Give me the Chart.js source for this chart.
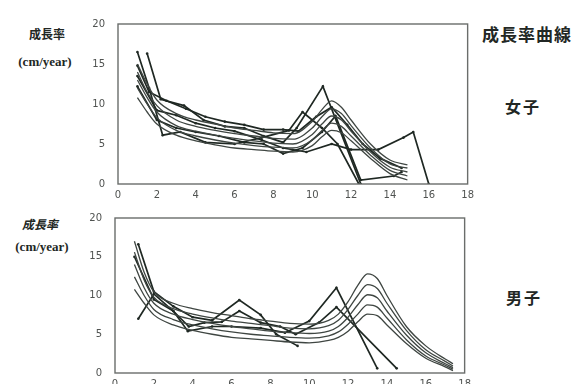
<!DOCTYPE html>
<html>
<head>
<meta charset="utf-8">
<script src="https://cdn.jsdelivr.net/npm/chart.js@4"></script>
<style>
  body { margin: 0; width: 575px; height: 384px; overflow: hidden; background: #fff; position: relative; }
  canvas { position: absolute; }
  .lbl { position: absolute; transform: translate(-50%, -50%); white-space: nowrap; color: #222724; }
  .cjk { font-family: "Noto Sans CJK JP", sans-serif; font-weight: bold; }
  .unit { font-family: "Liberation Serif", serif; font-weight: bold; font-size: 13px; }
</style>
</head>
<body>
<canvas id="girls" width="390" height="200" style="left:89px; top:5px;"></canvas>
<canvas id="boys" width="390" height="195" style="left:86px; top:199px;"></canvas>

<div class="lbl cjk" style="left:47px; top:33px; font-size:12px;">成長率</div>
<div class="lbl unit" style="left:45px; top:62px;">(cm/year)</div>
<div class="lbl cjk" style="left:527px; top:33px; font-size:17px; letter-spacing:1px;">成長率曲線</div>
<div class="lbl cjk" style="left:523px; top:106px; font-size:16px; letter-spacing:2px;">女子</div>
<div class="lbl cjk" style="left:40px; top:223px; font-size:12px; font-style:italic;">成長率</div>
<div class="lbl unit" style="left:42px; top:247px;">(cm/year)</div>
<div class="lbl cjk" style="left:524px; top:297px; font-size:16px; letter-spacing:2px;">男子</div>

<script>
// axis ticks
const xTicks = [0, 2, 4, 6, 8, 10, 12, 14, 16, 18];
const yTicks = [0, 5, 10, 15, 20];

// girls: reference growth-rate curves (smooth)
const girlAges = [1, 1.5, 2, 3, 4, 5, 6, 7, 8, 9, 10, 10.5, 11, 11.5, 12, 13, 14, 14.9];
const girlP1 = [15, 12.5, 10.5, 8.8, 8, 7.5, 7, 6.7, 6.4, 6.3, 7.8, 9.3, 10.4, 9.6, 8, 5, 3, 2.4];
const girlP2 = [14, 11.5, 9.8, 8, 7.2, 6.7, 6.3, 6, 5.7, 5.6, 7, 8.4, 9.4, 8.8, 7.3, 4.5, 2.5, 2];
const girlP3 = [13, 10.8, 9, 7.3, 6.6, 6.1, 5.7, 5.4, 5.1, 5, 6.2, 7.5, 8.5, 8, 6.6, 4, 2.1, 1.5];
const girlP4 = [12, 10, 8.3, 6.7, 6, 5.5, 5.1, 4.8, 4.6, 4.5, 5.5, 6.7, 7.6, 7.2, 6, 3.6, 1.7, 1];
const girlP5 = [10.8, 9, 7.5, 6.1, 5.4, 4.9, 4.5, 4.3, 4.1, 4, 4.8, 5.9, 6.7, 6.4, 5.4, 3.2, 1.3, 0.5];

// girls: individual cases [age, rate]
const girlA = [[1.5, 16.3], [2.2, 10.6], [3.4, 9.8], [4.4, 8], [5.5, 7.2], [6.5, 7], [7.5, 6], [8.5, 5.2], [9.2, 7], [10.55, 12.2], [12.5, 0]];
const girlB = [[1, 16.5], [1.6, 12], [2.3, 6.1], [3.2, 6.5], [4.5, 5.2], [6, 5], [7.4, 5.8], [8.8, 6.7], [9.5, 9], [10.5, 7], [11.3, 5], [12.4, 0]];
const girlC = [[1, 13.5], [2, 9.2], [3, 8.6], [4, 7.6], [5, 7], [6, 6.6], [7.4, 5.5], [8.5, 4.5], [9.7, 4], [11, 5], [12, 4.3], [13.4, 4.3], [14.7, 5.8], [15.2, 6.5], [16, 0]];
const girlD = [[1, 12.2], [2, 8], [3, 7], [4, 6.5], [5.2, 6], [6.5, 5.2], [7.5, 5], [8.5, 3.8], [9.5, 4.5], [10.5, 6.5], [11.2, 8.5], [12.5, 0.5], [14.2, 1], [14.6, 1.5]];
const girlE = [[1, 14.8], [1.6, 11.5], [2.5, 10.4], [3.5, 9.4], [4.5, 8.4], [5.5, 7.8], [6.5, 7.4], [7.5, 6.8], [8.5, 6.8], [9.3, 6.6], [10.2, 8.4], [11, 9.6], [11.8, 7.4], [12.6, 5], [13.5, 3.2], [14.6, 2]];

// boys: reference growth-rate curves (smooth)
const boyAges = [1, 1.5, 2, 3, 4, 5, 6, 7, 8, 9, 10, 11, 11.5, 12, 12.5, 13, 13.5, 14, 15, 16, 17, 17.4];
const boyP1 = [17, 13, 10.5, 9, 8.3, 7.8, 7.4, 7, 6.7, 6.4, 6.3, 6.8, 7.6, 9.2, 11.3, 12.8, 12.2, 10, 6, 3.5, 1.8, 1.2];
const boyP2 = [15.6, 12, 9.8, 8.3, 7.6, 7.1, 6.7, 6.4, 6.1, 5.8, 5.7, 6.1, 6.8, 8.2, 10, 11.4, 10.9, 9, 5.5, 3, 1.5, 0.9];
const boyP3 = [14, 11, 9, 7.6, 6.9, 6.4, 6, 5.7, 5.4, 5.2, 5.1, 5.4, 6, 7.2, 8.8, 10.1, 9.7, 8, 4.9, 2.6, 1.2, 0.7];
const boyP4 = [12.4, 10, 8.2, 6.9, 6.2, 5.7, 5.3, 5, 4.8, 4.6, 4.5, 4.8, 5.3, 6.3, 7.6, 8.8, 8.5, 7.1, 4.3, 2.2, 1, 0.5];
const boyP5 = [10.8, 9, 7.5, 6.2, 5.5, 5, 4.6, 4.4, 4.2, 4, 3.9, 4.2, 4.6, 5.4, 6.6, 7.6, 7.4, 6.2, 3.8, 1.9, 0.8, 0.3];

// boys: individual cases [age, rate]
const boyA = [[1.2, 16.6], [2, 10.5], [3, 8.6], [4, 7.2], [5, 6.8], [6.4, 9.4], [7.5, 7.5], [8.3, 5], [9.4, 3.5]];
const boyB = [[1.2, 7], [2, 10.2], [3, 8], [3.8, 6], [4.6, 6.5], [5.5, 6.6], [6.4, 8], [7.5, 6.5], [8.5, 6], [9.3, 5], [10.5, 6.5], [11.4, 8.5], [14.5, 0.6]];
const boyC = [[1, 15], [2, 9.5], [3, 8], [3.75, 5.4], [5, 6], [6, 6], [7.5, 5.8], [8.75, 5.2], [10, 6.7], [11.4, 11], [13.5, 0.6]];

const smoothColor = '#3f4642';
const caseColor = '#1f2823';

function smooth(ages, vals) {
  return {
    data: ages.map((a, i) => ({ x: a, y: vals[i] })),
    borderColor: smoothColor,
    borderWidth: 1.3,
    pointRadius: 0,
    cubicInterpolationMode: 'monotone'
  };
}

function single(pairs) {
  return {
    data: pairs.map(p => ({ x: p[0], y: p[1] })),
    borderColor: caseColor,
    borderWidth: 1.7,
    pointRadius: 1.3,
    pointBackgroundColor: caseColor,
    pointBorderWidth: 0,
    tension: 0
  };
}

// draws the frame round the plot area
const frame = {
  id: 'frame',
  afterDraw(chart) {
    const a = chart.chartArea, ctx = chart.ctx;
    ctx.save();
    ctx.strokeStyle = '#6a6d6b';
    ctx.lineWidth = 1.4;
    ctx.strokeRect(a.left, a.top, a.right - a.left, a.bottom - a.top);
    ctx.restore();
  }
};

function makeOptions() {
  const tickFont = { family: 'DejaVu Sans', size: 10 };
  return {
    responsive: false,
    animation: false,
    layout: { padding: { top: 8, right: 11, left: 0, bottom: 0 } },
    plugins: { legend: { display: false }, tooltip: { enabled: false } },
    scales: {
      x: {
        type: 'linear', min: 0, max: 18,
        afterBuildTicks: s => { s.ticks = xTicks.map(v => ({ value: v })); },
        afterFit: s => { s.height = 21; },
        grid: { display: false, drawTicks: false },
        border: { display: false },
        ticks: { color: '#505351', font: tickFont, padding: 5 }
      },
      y: {
        min: 0, max: 20,
        afterBuildTicks: s => { s.ticks = yTicks.map(v => ({ value: v })); },
        afterFit: s => { s.width = 29; },
        grid: { display: false, drawTicks: false },
        border: { display: false },
        ticks: { color: '#505351', font: tickFont, padding: 13 }
      }
    }
  };
}

new Chart(document.getElementById('girls'), {
  type: 'line',
  data: {
    datasets: [
      smooth(girlAges, girlP1), smooth(girlAges, girlP2), smooth(girlAges, girlP3),
      smooth(girlAges, girlP4), smooth(girlAges, girlP5),
      single(girlA), single(girlB), single(girlC), single(girlD), single(girlE)
    ]
  },
  options: makeOptions(),
  plugins: [frame]
});

new Chart(document.getElementById('boys'), {
  type: 'line',
  data: {
    datasets: [
      smooth(boyAges, boyP1), smooth(boyAges, boyP2), smooth(boyAges, boyP3),
      smooth(boyAges, boyP4), smooth(boyAges, boyP5),
      single(boyA), single(boyB), single(boyC)
    ]
  },
  options: makeOptions(),
  plugins: [frame]
});
</script>
</body>
</html>
